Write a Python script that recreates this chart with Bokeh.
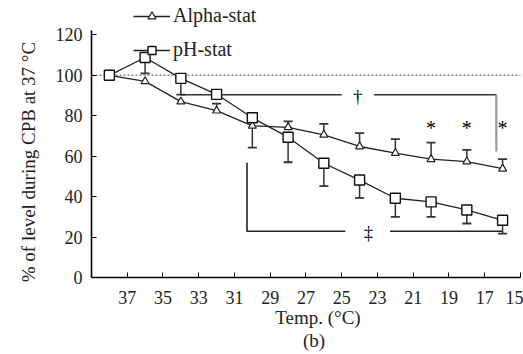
import math
from bokeh.plotting import figure
from bokeh.models import Range1d, FixedTicker, Legend, LegendItem
from bokeh.core.properties import value
from bokeh.embed import file_html
from bokeh.resources import INLINE

# ---- data ----
temps = [38, 36, 34, 32, 30, 28, 26, 24, 22, 20, 18, 16]
alpha_stat = [100, 97, 87, 82.5, 75, 74.3, 70.6, 64.8, 61.5, 58.5, 57.3, 53.8]
alpha_err_hi = [None, None, None, 86, None, 77.2, 76, 71.4, 68.4, 66.7, 63.1, 58.5]
ph_stat = [100, 108.8, 98.5, 90.6, 79, 69.4, 56.5, 48.2, 39.2, 37.4, 33.4, 28.3]
ph_err_lo = [None, 101, 90.5, None, 64.2, 57, 45.2, 39.4, 30, 30, 26.7, 21.7]

x_ticks = [37, 35, 33, 31, 29, 27, 25, 23, 21, 19, 17, 15]
y_ticks = [0, 20, 40, 60, 80, 100, 120]
x_axis_start, x_axis_end = 39, 15
y_axis_top = 122.2
baseline_level = 100

# significance marks
star_x = [20, 18, 16]
star_y = [74, 74, 74]
dagger_x = [24.1]
dagger_y = [89.5]
ddagger_x = [23.5]
ddagger_y = [22.2]
# bracket for dagger (black horizontal, grey drop)
dag_br_xs = [[34, 25.0], [23.2, 16.35]]
dag_br_ys = [[90.4, 90.4], [90.4, 90.4]]
dag_drop_x = [16.35, 16.35]
dag_drop_y = [90.4, 62.3]
# bracket for double dagger
ddag_br_xs = [[30.3, 30.3, 24.8], [22.3, 16.0]]
ddag_br_ys = [[56.8, 22.9, 22.9], [22.9, 22.9]]

# axis titles (placed in the whole-canvas frame)
ylabel_text = "% of level during CPB at 37 \u00b0C"
ylabel_pos = ([42.52], [57.1])
xlabel_text = "Temp. (\u00b0C)"
xlabel_pos = ([26.33], [-19.8])
panel_text = "(b)"
panel_pos = ([26.55], [-31.2])

FONT = "Liberation Serif"
INK = "#222222"

p = figure(width=523, height=354, x_range=Range1d(44.09, 14.83), y_range=Range1d(-38.09, 137.01),
           output_backend="svg", toolbar_location=None,
           min_border_left=0, min_border_right=0, min_border_top=0, min_border_bottom=0)
p.xgrid.visible = False
p.ygrid.visible = False
p.outline_line_color = None
p.background_fill_color = "white"

for ax in (p.xaxis[0], p.yaxis[0]):
    ax.major_tick_in = 5
    ax.major_tick_out = 0
    ax.minor_tick_line_color = None
    ax.axis_line_width = 1.6
    ax.axis_line_color = "black"
    ax.major_tick_line_color = "black"
    ax.major_label_text_font = FONT
    ax.major_label_text_font_size = "18px"
    ax.major_label_text_color = INK
p.xaxis.ticker = FixedTicker(ticks=x_ticks)
p.yaxis.ticker = FixedTicker(ticks=y_ticks)
p.yaxis.bounds = (0, y_axis_top)
p.xaxis.bounds = (x_axis_end, x_axis_start)
p.yaxis.fixed_location = x_axis_start
p.xaxis.fixed_location = 0
p.xaxis.major_label_standoff = 14
p.yaxis.major_label_standoff = 9

# baseline dotted line (from the y axis to the right edge)
p.line([x_axis_start, x_axis_end], [baseline_level, baseline_level], line_dash="2 2",
       line_color="#888888", line_width=1.5)

# brackets
p.multi_line(xs=dag_br_xs, ys=dag_br_ys, line_color="#333333", line_width=1.6)
p.line(dag_drop_x, dag_drop_y, line_color="#9a9a9a", line_width=2.2)
p.multi_line(xs=ddag_br_xs, ys=ddag_br_ys, line_color=INK, line_width=1.6)

# error bars
ax_, ay0, ay1 = [], [], []
for t, v, h in zip(temps, alpha_stat, alpha_err_hi):
    if h is not None:
        ax_.append(t); ay0.append(v); ay1.append(h)
px_, py0, py1 = [], [], []
for t, v, lo in zip(temps, ph_stat, ph_err_lo):
    if lo is not None:
        px_.append(t); py0.append(v); py1.append(lo)
p.segment(x0=ax_, y0=ay0, x1=ax_, y1=ay1, line_color="#333333", line_width=1.5)
p.scatter(ax_, ay1, marker="dash", size=9, line_color="#333333", line_width=1.8)
p.segment(x0=px_, y0=py0, x1=px_, y1=py1, line_color="#333333", line_width=1.5)
p.scatter(px_, py1, marker="dash", size=9, line_color="#333333", line_width=1.8)

# series
a_line = p.line(temps, alpha_stat, line_color=INK, line_width=1.3)
a_mark = p.scatter(temps, alpha_stat, marker="triangle", size=8, fill_color="white",
                   line_color=INK, line_width=1.2)
h_line = p.line(temps, ph_stat, line_color=INK, line_width=1.3)
h_mark = p.scatter(temps, ph_stat, marker="square", size=10, fill_color="white",
                   line_color="#111111", line_width=1.4)

# significance symbols
p.text(star_x, star_y, text=["*"] * len(star_x), text_font=value(FONT), text_font_size="20px",
       text_align="center", text_baseline="middle", text_color="black")
p.text(dagger_x, dagger_y, text=["\u2020"], text_font=value(FONT), text_font_size="18px",
       text_align="center", text_baseline="middle", text_color="black")
p.text(ddagger_x, ddagger_y, text=["\u2021"], text_font=value(FONT), text_font_size="18px",
       text_align="center", text_baseline="middle", text_color="black")

# axis titles
p.text(ylabel_pos[0], ylabel_pos[1], text=[ylabel_text], angle=math.pi / 2,
       text_font=value(FONT), text_font_size="19px", text_align="center",
       text_baseline="middle", text_color=INK)
p.text(xlabel_pos[0], xlabel_pos[1], text=[xlabel_text], text_font=value(FONT),
       text_font_size="19px", text_align="center", text_baseline="middle", text_color=INK)
p.text(panel_pos[0], panel_pos[1], text=[panel_text], text_font=value(FONT),
       text_font_size="19px", text_align="center", text_baseline="middle", text_color=INK)

legend = Legend(items=[LegendItem(label="Alpha-stat", renderers=[a_line, a_mark]),
                       LegendItem(label="pH-stat", renderers=[h_line, h_mark])],
                location=(133, 293), background_fill_alpha=0, border_line_color=None,
                padding=0, margin=0, spacing=11, glyph_width=37, glyph_height=20,
                label_height=20, label_standoff=3, label_text_font=FONT,
                label_text_font_size="20px", label_text_color=INK)
p.add_layout(legend, "center")

open("out.html", "w").write(file_html(p, INLINE))
